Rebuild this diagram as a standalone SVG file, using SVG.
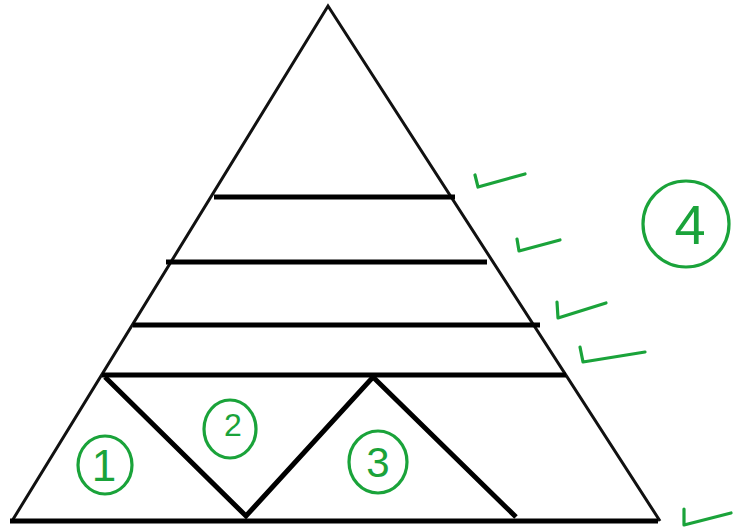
<svg xmlns="http://www.w3.org/2000/svg" width="734" height="532" viewBox="0 0 734 532">
<style>
.edge{fill:none;stroke:#111;stroke-width:3;stroke-linejoin:miter}
.bar{stroke:#000;stroke-width:5;stroke-linecap:butt}
.ink{fill:none;stroke:#1aa33a;stroke-width:3.2;stroke-linecap:round;stroke-linejoin:round}
.num{font-family:"Liberation Sans",Arial,sans-serif;fill:#1aa33a;text-anchor:middle}
</style>
<rect width="734" height="532" fill="#fff"/>
<g id="pyramid">
<polyline class="edge" points="12,521 328,6 660,521"/>
<line class="bar" x1="10" y1="521" x2="658" y2="521"/>
</g>
<g id="levels">
<line class="bar" x1="214" y1="197" x2="455" y2="197"/>
<line class="bar" x1="166" y1="262" x2="487" y2="262"/>
<line class="bar" x1="133" y1="325" x2="540" y2="325"/>
<line class="bar" x1="102" y1="375" x2="566" y2="375"/>
</g>
<g id="zigzag">
<polyline fill="none" stroke="#000" stroke-width="5" stroke-linejoin="miter" points="105,377 246,516 373,377 516,517"/>
</g>
<g id="c1">
<ellipse class="ink" cx="105" cy="465" rx="27" ry="29"/>
<text class="num" x="104" y="481" font-size="44">1</text>
</g>
<g id="c2">
<ellipse class="ink" cx="230" cy="429" rx="26" ry="29"/>
<text class="num" x="233" y="436" font-size="32">2</text>
</g>
<g id="c3">
<ellipse class="ink" cx="378" cy="462" rx="29" ry="31"/>
<text class="num" x="378" y="477" font-size="42">3</text>
</g>
<g id="c4">
<ellipse class="ink" cx="686" cy="224" rx="43" ry="43"/>
<text class="num" x="690" y="244" font-size="56">4</text>
</g>
<g id="checks">
<polyline class="ink" points="475,175 478,187 525,174"/>
<polyline class="ink" points="517,239 519,251 560,240"/>
<polyline class="ink" points="557,302 558,318 606,303"/>
<polyline class="ink" points="580,347 583,362 645,352"/>
<polyline class="ink" points="684,509 684,525 731,513"/>
</g>
</svg>
